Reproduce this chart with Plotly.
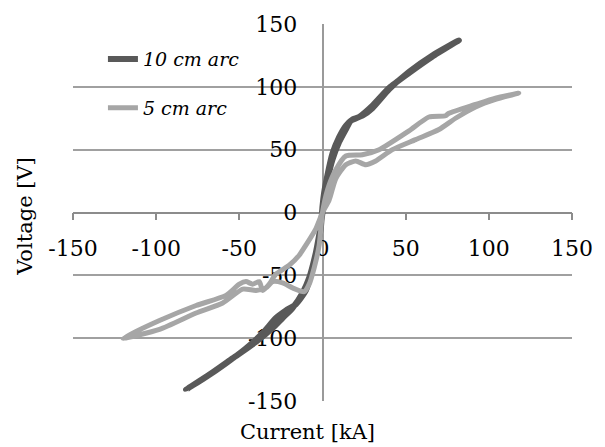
import plotly.graph_objects as go

# 10 cm arc loop (current kA, voltage V)
i10 = [-82, -68, -54, -40, -30, -24, -18, -12, -8, -4, -1, 0, 1, 3, 6, 10, 14, 18, 24, 30, 40, 52, 66, 82,
       66, 52, 40, 30, 22, 17, 14, 10, 6, 3, 1, 0, -2, -6, -10, -16, -22, -28, -36, -46, -58, -70, -82]
v10 = [-141, -129, -116, -103, -92, -84, -76, -64, -52, -32, -12, 5, 16, 30, 47, 60, 69, 74, 77, 83, 98, 112, 125, 137,
       124, 111, 99, 85, 76, 73, 66, 56, 42, 26, 12, 0, -18, -44, -62, -73, -78, -84, -96, -108, -120, -131, -141]

# 5 cm arc loop
i5 = [-120, -98, -76, -58, -50, -46, -42, -38, -36, -32, -28, -20, -14, -10, -4, 0, 4, 8, 14, 20, 26, 32, 42, 56, 70, 80, 92, 104, 118,
      104, 92, 76, 74, 64, 52, 34, 24, 14, 8, 3, 0, -2, -5, -8, -11, -18, -24, -30, -34, -40, -48, -60, -76, -98, -120]
v5 = [-100, -86, -74, -66, -57, -55, -57, -55, -62, -57, -49, -42, -34, -26, -13, 0, 10, 27, 38, 41, 38, 41, 50, 58, 66, 75, 84, 90, 95,
      91, 86, 79, 77, 76, 65, 50, 46, 45, 34, 18, 0, -26, -44, -57, -63, -60, -56, -55, -60, -62, -61, -72, -80, -93, -100]

names = ["10 cm arc", "5 cm arc"]
colors = ["#595959", "#a6a6a6"]

xticks = [-150, -100, -50, 0, 50, 100, 150]
yticks = [-150, -100, -50, 0, 50, 100, 150]

FF = "DejaVu Serif"

fig = go.Figure()
fig.add_trace(go.Scatter(x=i10, y=v10, mode="lines", name=names[0], legendgroup="a",
                         line=dict(color=colors[0], width=6, shape="spline", smoothing=0.6)))
fig.add_trace(go.Scatter(x=i5, y=v5, mode="lines", name=names[1], legendgroup="b",
                         line=dict(color=colors[1], width=5, shape="spline", smoothing=0.6)))

fig.update_layout(
    width=605, height=447,
    margin=dict(l=73, r=32, t=20, b=46),
    paper_bgcolor="white", plot_bgcolor="white",
    font=dict(family=FF, size=22, color="#000000"),
    showlegend=True,
    legend=dict(x=0.06, y=0.957, xanchor="left", yanchor="top",
                font=dict(family=FF, size=19, style="italic"),
                traceorder="grouped", tracegroupgap=21, bgcolor="rgba(0,0,0,0)"),
    xaxis=dict(range=[-150, 150], tickvals=xticks, ticktext=[str(t) for t in xticks],
               anchor="free", position=0.5, showgrid=False, zeroline=False,
               showline=True, linecolor="#8c8c8c", linewidth=1.5,
               ticks="outside", ticklen=7, tickcolor="#8c8c8c", tickwidth=1.5,
               tickfont=dict(family=FF, size=22),
               ticklabelstandoff=9, layer="below traces", fixedrange=True),
    yaxis=dict(range=[-150, 150], tickvals=yticks, ticktext=[str(t) for t in yticks],
               anchor="free", position=0.5, showgrid=True, gridcolor="#a0a0a0", gridwidth=1.5,
               zeroline=False, showline=True, linecolor="#9a9a9a", linewidth=1.5,
               tickfont=dict(family=FF, size=22),
               ticks="", ticklabelstandoff=20, layer="below traces", fixedrange=True),
    annotations=[
        dict(text="Current [kA]", xref="paper", yref="paper", x=0.47, y=-0.045,
             xanchor="center", yanchor="top", showarrow=False,
             font=dict(family=FF, size=21)),
        dict(text="Voltage [V]", xref="paper", yref="paper", x=-0.095, y=0.49,
             xanchor="center", yanchor="middle", textangle=-90, showarrow=False,
             font=dict(family=FF, size=21)),
    ],
)

fig.write_html("out.html")
